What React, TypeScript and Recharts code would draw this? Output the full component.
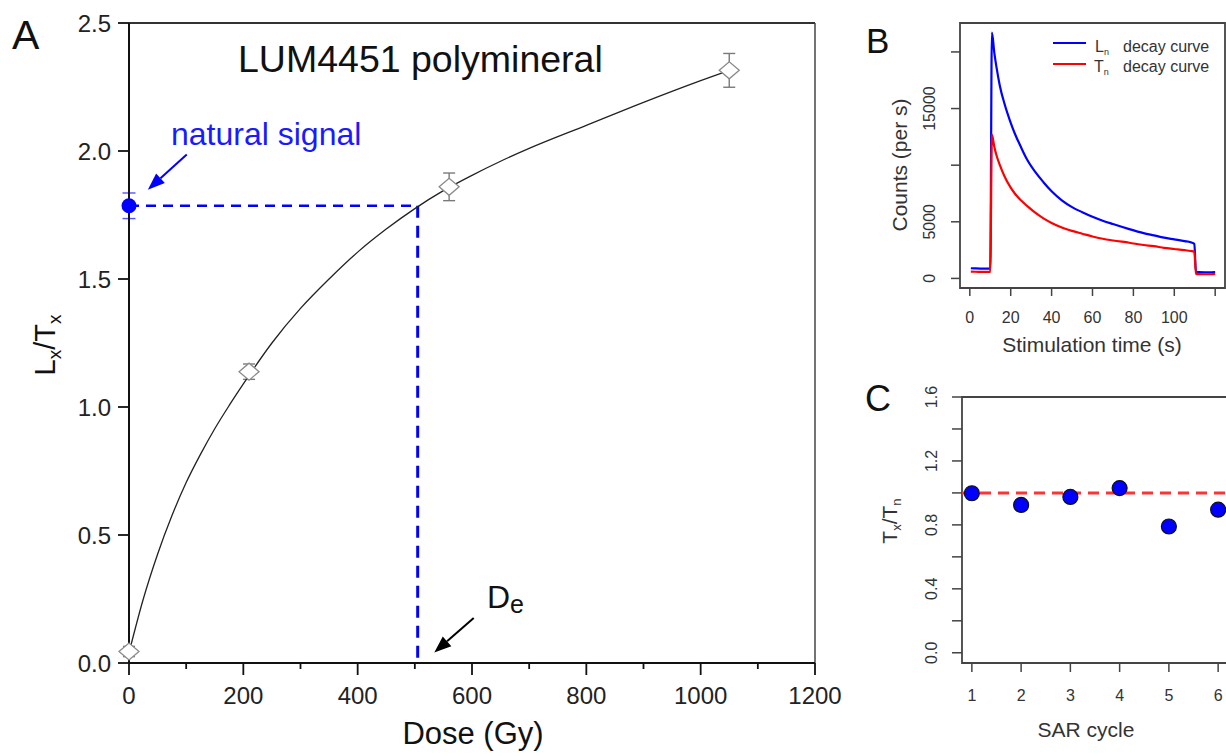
import {
  ComposedChart,
  LineChart,
  ScatterChart,
  Line,
  Scatter,
  XAxis,
  YAxis,
  ErrorBar,
  ReferenceLine,
  ReferenceArea
} from "recharts";

const FONT = "'Liberation Sans', Arial, Helvetica, sans-serif";
const BLUE = "#0000ff";
const RED = "#ff0000";

// ---- panel A : dose response ----
const FIT_DOSE = [0, 25, 50, 75, 100, 125, 150, 175, 200, 250, 300, 350, 400, 450, 500, 550, 600, 650, 700, 800, 900, 1000, 1050];
const FIT_RATIO = [0.04, 0.25, 0.425, 0.575, 0.705, 0.815, 0.915, 1.005, 1.09, 1.25, 1.385, 1.5, 1.605, 1.695, 1.775, 1.845, 1.905, 1.96, 2.01, 2.1, 2.19, 2.275, 2.315];
const REG_DOSE = [0, 210, 560, 1050];
const REG_RATIO = [0.045, 1.138, 1.86, 2.315];
const REG_ERR = [0.02, 0.03, 0.054, 0.066];
const NATURAL_RATIO = 1.786;
const NATURAL_ERR = 0.05;
const DE = 505;
const DOSE_TICKS = [0, 100, 200, 300, 400, 500, 600, 700, 800, 900, 1000, 1100, 1200];
const RATIO_TICKS = [0, 0.5, 1, 1.5, 2, 2.5];

// ---- panel B : decay curves ----
const DECAY_TIME = [0.5, 3, 6, 9.5, 10, 10.8, 12, 13, 14.7, 17, 19.7, 22, 25, 28, 32, 36, 40, 45, 50, 55, 60, 65, 70, 78, 85, 90, 95, 100, 105, 108, 109.8, 110.6, 112, 115, 118, 120];
const LN_COUNTS = [900, 880, 870, 860, 860, 21700, 19900, 18700, 17000, 15400, 13900, 12800, 11600, 10500, 9400, 8500, 7700, 6900, 6300, 5850, 5450, 5100, 4800, 4350, 4000, 3800, 3600, 3450, 3300, 3200, 3050, 560, 550, 540, 540, 550];
const TN_COUNTS = [600, 590, 580, 580, 580, 12700, 11600, 10900, 10000, 9000, 8100, 7500, 6900, 6400, 5800, 5300, 4900, 4500, 4200, 3950, 3700, 3500, 3350, 3150, 2950, 2850, 2700, 2600, 2500, 2420, 2350, 400, 380, 370, 370, 400];
const TIME_TICKS = [0, 20, 40, 60, 80, 100, 120];
const TIME_LABELS = [0, 20, 40, 60, 80, 100];
const COUNT_TICKS = [0, 5000, 10000, 15000, 20000];
const COUNT_LABELS = [0, 5000, 15000];

// ---- panel C : sensitivity ----
const SAR_CYCLE = [1, 2, 3, 4, 5, 6];
const TX_TN = [0.998, 0.925, 0.975, 1.03, 0.79, 0.895];
const TXTN_TICKS = [0, 0.2, 0.4, 0.6, 0.8, 1.0, 1.2, 1.4, 1.6];
const TXTN_LABELS = [0, 0.4, 0.8, 1.2, 1.6];

const fitData = FIT_DOSE.map((d, i) => ({ dose: d, ratio: FIT_RATIO[i] }));
const regData = REG_DOSE.map((d, i) => ({ dose: d, ratio: REG_RATIO[i], err: REG_ERR[i] }));
const natData = [{ dose: 0, ratio: NATURAL_RATIO, err: NATURAL_ERR }];
const decayData = DECAY_TIME.map((t, i) => ({ t, ln: LN_COUNTS[i], tn: TN_COUNTS[i] }));
const sarData = SAR_CYCLE.map((c, i) => ({ cycle: c, ratio: TX_TN[i] }));

function Diamond(p: any) {
  const { cx, cy } = p;
  return (
    <polygon
      points={`${cx - 10},${cy} ${cx},${cy - 8.5} ${cx + 10},${cy} ${cx},${cy + 8.5}`}
      fill="#fff"
      stroke="#8a8a8a"
      strokeWidth={1.3}
    />
  );
}

function Dot(p: any) {
  return <circle cx={p.cx} cy={p.cy} r={7.5} fill={BLUE} stroke={p.edge || "none"} strokeWidth={1.2} />;
}

function Arrow(p: any) {
  const { x1, y1, x2, y2, color } = p;
  const ang = Math.atan2(y2 - y1, x2 - x1);
  const len = 17;
  const half = 6.5;
  const bx = x2 - len * Math.cos(ang);
  const by = y2 - len * Math.sin(ang);
  const px = -Math.sin(ang) * half;
  const py = Math.cos(ang) * half;
  return (
    <g>
      <line x1={x1} y1={y1} x2={bx} y2={by} stroke={color} strokeWidth={2} />
      <polygon points={`${x2},${y2} ${bx + px},${by + py} ${bx - px},${by - py}`} fill={color} />
    </g>
  );
}

function DoseTick({ x, y, payload }: any) {
  const v = payload.value;
  const major = v % 200 === 0;
  const axisY = y - 24;
  return (
    <g>
      <line x1={x} x2={x} y1={axisY} y2={axisY + (major ? 12 : 6)} stroke="#111" strokeWidth={1.8} />
      {major && (
        <text x={x} y={y} dy="0.71em" textAnchor="middle" fontSize={24} fill="#222" fontFamily={FONT}>
          {v}
        </text>
      )}
    </g>
  );
}

function RotTick({ x, y, payload, labels, fmt }: any) {
  const v = payload.value;
  const show = labels.some((l: number) => Math.abs(l - v) < 1e-6);
  if (!show) return <g />;
  return (
    <text x={x} y={y} transform={`rotate(-90 ${x} ${y})`} textAnchor="middle" fontSize={16} fill="#333" fontFamily={FONT}>
      {fmt(v)}
    </text>
  );
}

function PlainTick({ x, y, payload, labels }: any) {
  if (!labels.includes(payload.value)) return <g />;
  return (
    <text x={x} y={y} dy="0.71em" textAnchor="middle" fontSize={16} fill="#333" fontFamily={FONT}>
      {payload.value}
    </text>
  );
}

function PanelA() {
  return (
    <ComposedChart width={860} height={756} margin={{ top: 23, right: 45, bottom: 43, left: 69 }}>
      <XAxis
        type="number"
        dataKey="dose"
        domain={[0, 1200]}
        ticks={DOSE_TICKS}
        interval={0}
        height={50}
        tickSize={12}
        tickMargin={12}
        tickLine={false}
        axisLine={{ stroke: "#111", strokeWidth: 2 }}
        tick={(p: any) => <DoseTick {...p} />}
      />
      <YAxis
        type="number"
        dataKey="ratio"
        domain={[0, 2.5]}
        ticks={RATIO_TICKS}
        interval={0}
        width={60}
        tickSize={11}
        tickMargin={7}
        tickFormatter={(v: number) => v.toFixed(1)}
        tick={{ fontSize: 24, fill: "#222", fontFamily: FONT }}
        tickLine={{ stroke: "#111", strokeWidth: 1.8 }}
        axisLine={{ stroke: "#111", strokeWidth: 2 }}
      />
      <ReferenceLine y={2.5} stroke="#333" strokeWidth={2} />
      <ReferenceLine x={1200} stroke="#444" strokeWidth={1.5} />
      <ReferenceLine
        segment={[{ x: 0, y: NATURAL_RATIO }, { x: DE, y: NATURAL_RATIO }]}
        stroke={BLUE}
        strokeWidth={2.5}
        strokeDasharray="10 7"
      />
      <ReferenceLine
        segment={[{ x: DE, y: NATURAL_RATIO }, { x: DE, y: 0 }]}
        stroke={BLUE}
        strokeWidth={3}
        strokeDasharray="12 8"
      />
      <ReferenceLine
        segment={[{ x: 101, y: 1.986 }, { x: 33, y: 1.849 }]}
        ifOverflow="visible"
        shape={(p: any) => <Arrow {...p} color={BLUE} />}
      />
      <ReferenceLine
        segment={[{ x: 603, y: 0.176 }, { x: 534, y: 0.041 }]}
        ifOverflow="visible"
        shape={(p: any) => <Arrow {...p} color="#000" />}
      />
      <Scatter data={regData} shape={(p: any) => <Diamond {...p} />} isAnimationActive={false}>
        <ErrorBar dataKey="err" direction="y" width={6} stroke="#7a7a7a" strokeWidth={1.4} />
      </Scatter>
      <Line
        data={fitData}
        dataKey="ratio"
        type="monotone"
        stroke="#222"
        strokeWidth={1.3}
        dot={false}
        activeDot={false}
        isAnimationActive={false}
      />
      <Scatter data={natData} shape={(p: any) => <Dot {...p} />} isAnimationActive={false}>
        <ErrorBar dataKey="err" direction="y" width={6.5} stroke="#5555ff" strokeWidth={1.4} />
      </Scatter>
    </ComposedChart>
  );
}

function PanelB() {
  return (
    <LineChart width={366} height={380} data={decayData} margin={{ top: 23, right: 1, bottom: 52, left: 60 }}>
      <XAxis
        type="number"
        dataKey="t"
        domain={[-4.8, 124.8]}
        ticks={TIME_TICKS}
        interval={0}
        height={40}
        tickSize={8}
        tickMargin={16}
        axisLine={false}
        tickLine={{ stroke: "#444", strokeWidth: 1.5 }}
        tick={(p: any) => <PlainTick {...p} labels={TIME_LABELS} />}
      />
      <YAxis
        type="number"
        domain={[-846, 22555]}
        ticks={COUNT_TICKS}
        interval={0}
        width={40}
        tickSize={9}
        tickMargin={16}
        axisLine={false}
        tickLine={{ stroke: "#444", strokeWidth: 1.5 }}
        tick={(p: any) => <RotTick {...p} labels={COUNT_LABELS} fmt={(v: number) => String(v)} />}
      />
      <ReferenceArea x1={-4.8} x2={124.8} y1={-846} y2={22555} fill="none" stroke="#444" strokeWidth={1.8} fillOpacity={0} />
      <Line dataKey="ln" type="monotone" stroke={BLUE} strokeWidth={2.2} dot={false} activeDot={false} isAnimationActive={false} />
      <Line dataKey="tn" type="monotone" stroke={RED} strokeWidth={2.2} dot={false} activeDot={false} isAnimationActive={false} />
    </LineChart>
  );
}

function PanelC() {
  return (
    <ScatterChart width={370} height={376} margin={{ top: 17, right: 2, bottom: 53, left: 62 }}>
      <XAxis
        type="number"
        dataKey="cycle"
        domain={[0.8, 6.2]}
        ticks={SAR_CYCLE}
        interval={0}
        height={40}
        tickSize={9}
        tickMargin={18}
        axisLine={false}
        tickLine={{ stroke: "#444", strokeWidth: 1.5 }}
        tick={(p: any) => <PlainTick {...p} labels={SAR_CYCLE} />}
      />
      <YAxis
        type="number"
        dataKey="ratio"
        domain={[-0.064, 1.6]}
        ticks={TXTN_TICKS}
        interval={0}
        width={40}
        tickSize={10}
        tickMargin={15}
        axisLine={false}
        tickLine={{ stroke: "#444", strokeWidth: 1.5 }}
        tick={(p: any) => <RotTick {...p} labels={TXTN_LABELS} fmt={(v: number) => v.toFixed(1)} />}
      />
      <ReferenceArea x1={0.8} x2={6.2} y1={-0.064} y2={1.6} fill="none" stroke="#444" strokeWidth={1.8} fillOpacity={0} />
      <Scatter data={sarData} shape={(p: any) => <Dot {...p} edge="#111" />} isAnimationActive={false} />
      <ReferenceLine y={1} stroke="#ff3333" strokeWidth={3} strokeDasharray="11 7" />
    </ScatterChart>
  );
}

function Overlay() {
  const dark = "#111";
  const grey = "#333";
  return (
    <svg
      width={1226}
      height={756}
      style={{ position: "absolute", left: 0, top: 0, pointerEvents: "none" }}
      fontFamily={FONT}
    >
      <text x={12} y={49} fontSize={41} fill={dark}>A</text>
      <text x={238} y={72} fontSize={37.5} fill={dark}>LUM4451 polymineral</text>
      <text x={171} y={145} fontSize={32} fill="#1a1aff">natural signal</text>
      <text x={487} y={608} fontSize={32} fill={dark}>
        D<tspan fontSize={25} dy={5}>e</tspan>
      </text>
      <text x={473} y={744} fontSize={31} fill={dark} textAnchor="middle">Dose (Gy)</text>
      <text x={55} y={345} fontSize={29} fill={dark} textAnchor="middle" transform="rotate(-90 55 345)">
        L<tspan fontSize={19} dy={6}>x</tspan>
        <tspan dy={-6}>/T</tspan>
        <tspan fontSize={19} dy={6}>x</tspan>
      </text>

      <text x={866} y={53} fontSize={35} fill={dark}>B</text>
      <text x={1092} y={352} fontSize={21} fill={grey} textAnchor="middle">Stimulation time (s)</text>
      <text x={907} y={165} fontSize={21} fill={grey} textAnchor="middle" transform="rotate(-90 907 165)">
        Counts (per s)
      </text>
      <line x1={1053} x2={1086} y1={43} y2={43} stroke={BLUE} strokeWidth={2} />
      <line x1={1053} x2={1086} y1={64} y2={64} stroke={RED} strokeWidth={2} />
      <text x={1095} y={52} fontSize={16} fill={grey}>
        L<tspan fontSize={9} dy={3}>n</tspan>
        <tspan x={1123} dy={-3}>decay curve</tspan>
      </text>
      <text x={1094} y={72} fontSize={16} fill={grey}>
        T<tspan fontSize={9} dy={3}>n</tspan>
        <tspan x={1123} dy={-3}>decay curve</tspan>
      </text>

      <text x={865} y={411} fontSize={36} fill={dark}>C</text>
      <text x={1086} y={737} fontSize={21} fill={grey} textAnchor="middle">SAR cycle</text>
      <text x={897} y={521} fontSize={21} fill={grey} textAnchor="middle" transform="rotate(-90 897 521)">
        T<tspan fontSize={13} dy={4}>x</tspan>
        <tspan dy={-4}>/T</tspan>
        <tspan fontSize={13} dy={4}>n</tspan>
      </text>
    </svg>
  );
}

export default function App() {
  return (
    <div style={{ position: "absolute", left: 0, top: 0, width: 1226, height: 756, background: "#fff", overflow: "hidden", fontFamily: FONT }}>
      <div style={{ position: "absolute", left: 0, top: 0 }}>
        <PanelA />
      </div>
      <div style={{ position: "absolute", left: 860, top: 0 }}>
        <PanelB />
      </div>
      <div style={{ position: "absolute", left: 860, top: 380, width: 366, height: 376, overflow: "hidden" }}>
        <PanelC />
      </div>
      <Overlay />
    </div>
  );
}
